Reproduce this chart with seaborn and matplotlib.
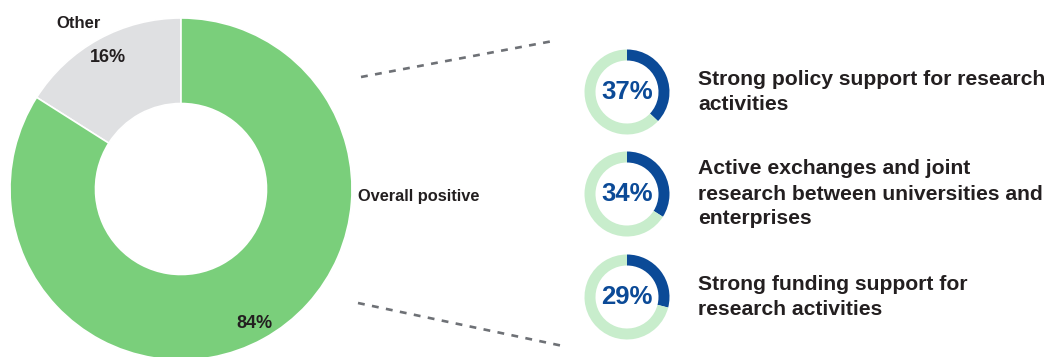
import matplotlib
matplotlib.use("Agg")
import matplotlib.pyplot as plt
import seaborn as sns

# Overall sentiment split
overall_labels = ["Other", "Overall positive"]
overall_values = [16, 84]

# Breakdown of positive drivers
driver_labels = [
    "Strong policy support for research\nactivities",
    "Active exchanges and joint\nresearch between universities and\nenterprises",
    "Strong funding support for\nresearch activities",
]
driver_values = [37, 34, 29]

sns.set_theme(style="white")
plt.rcParams["font.family"] = ["Liberation Sans", "DejaVu Sans"]

GREEN = "#7ACF7B"
GREY = "#DFE0E2"
BLUE = "#0B4A97"
LIGHT_GREEN = "#C8EDCC"
TEXT = "#231F20"
DASH = "#6E7176"

W, H = 1049, 357
fig = plt.figure(figsize=(W / 100, H / 100), dpi=100)
ax = fig.add_axes([0, 0, 1, 1])


def py(y):
    # convert a top-down pixel row to the axes' bottom-up coordinate
    return H - y


# Main donut
big_c = (181, py(189))
big_r = 171
ax.pie(
    overall_values,
    colors=[GREY, GREEN],
    startangle=90,
    counterclock=True,
    center=big_c,
    radius=big_r,
    wedgeprops=dict(width=big_r * 0.5, edgecolor="white", linewidth=1.2),
    frame=True,
)

ax.text(79, py(24), overall_labels[0], ha="center", va="center",
        fontsize=12, fontweight="bold", color=TEXT)
ax.text(108, py(58), f"{overall_values[0]}%", ha="center", va="center",
        fontsize=13, fontweight="bold", color=TEXT)
ax.text(358, py(197), overall_labels[1], ha="left", va="center",
        fontsize=11.8, fontweight="bold", color=TEXT)
ax.text(254, py(323), f"{overall_values[1]}%", ha="center", va="center",
        fontsize=13, fontweight="bold", color=TEXT)

# Connector lines to the breakdown
ax.plot([361, 553], [py(77), py(41)], color=DASH, lw=1.9,
        dashes=(2.6, 2.8), solid_capstyle="butt")
ax.plot([358, 563], [py(303), py(346)], color=DASH, lw=1.9,
        dashes=(2.6, 2.8), solid_capstyle="butt")

# Small donuts with their descriptions
small_x = 627
small_ys = [92, 194, 297]
small_r = 42.5
for label, val, yc in zip(driver_labels, driver_values, small_ys):
    ax.pie(
        [val, 100 - val],
        colors=[BLUE, LIGHT_GREEN],
        startangle=90,
        counterclock=False,
        center=(small_x, py(yc)),
        radius=small_r,
        wedgeprops=dict(width=11, edgecolor="none"),
        frame=True,
    )
    ax.text(small_x, py(yc), f"{val}%", ha="center", va="center",
            fontsize=18.5, fontweight="bold", color=BLUE)
    ax.text(698, py(yc), label, ha="left", va="center",
            fontsize=15.2, fontweight="bold", color=TEXT, linespacing=1.4)

ax.set_xlim(0, W)
ax.set_ylim(0, H)
ax.set_aspect("equal")
ax.axis("off")

fig.savefig("out.png", dpi=100, facecolor="white")
